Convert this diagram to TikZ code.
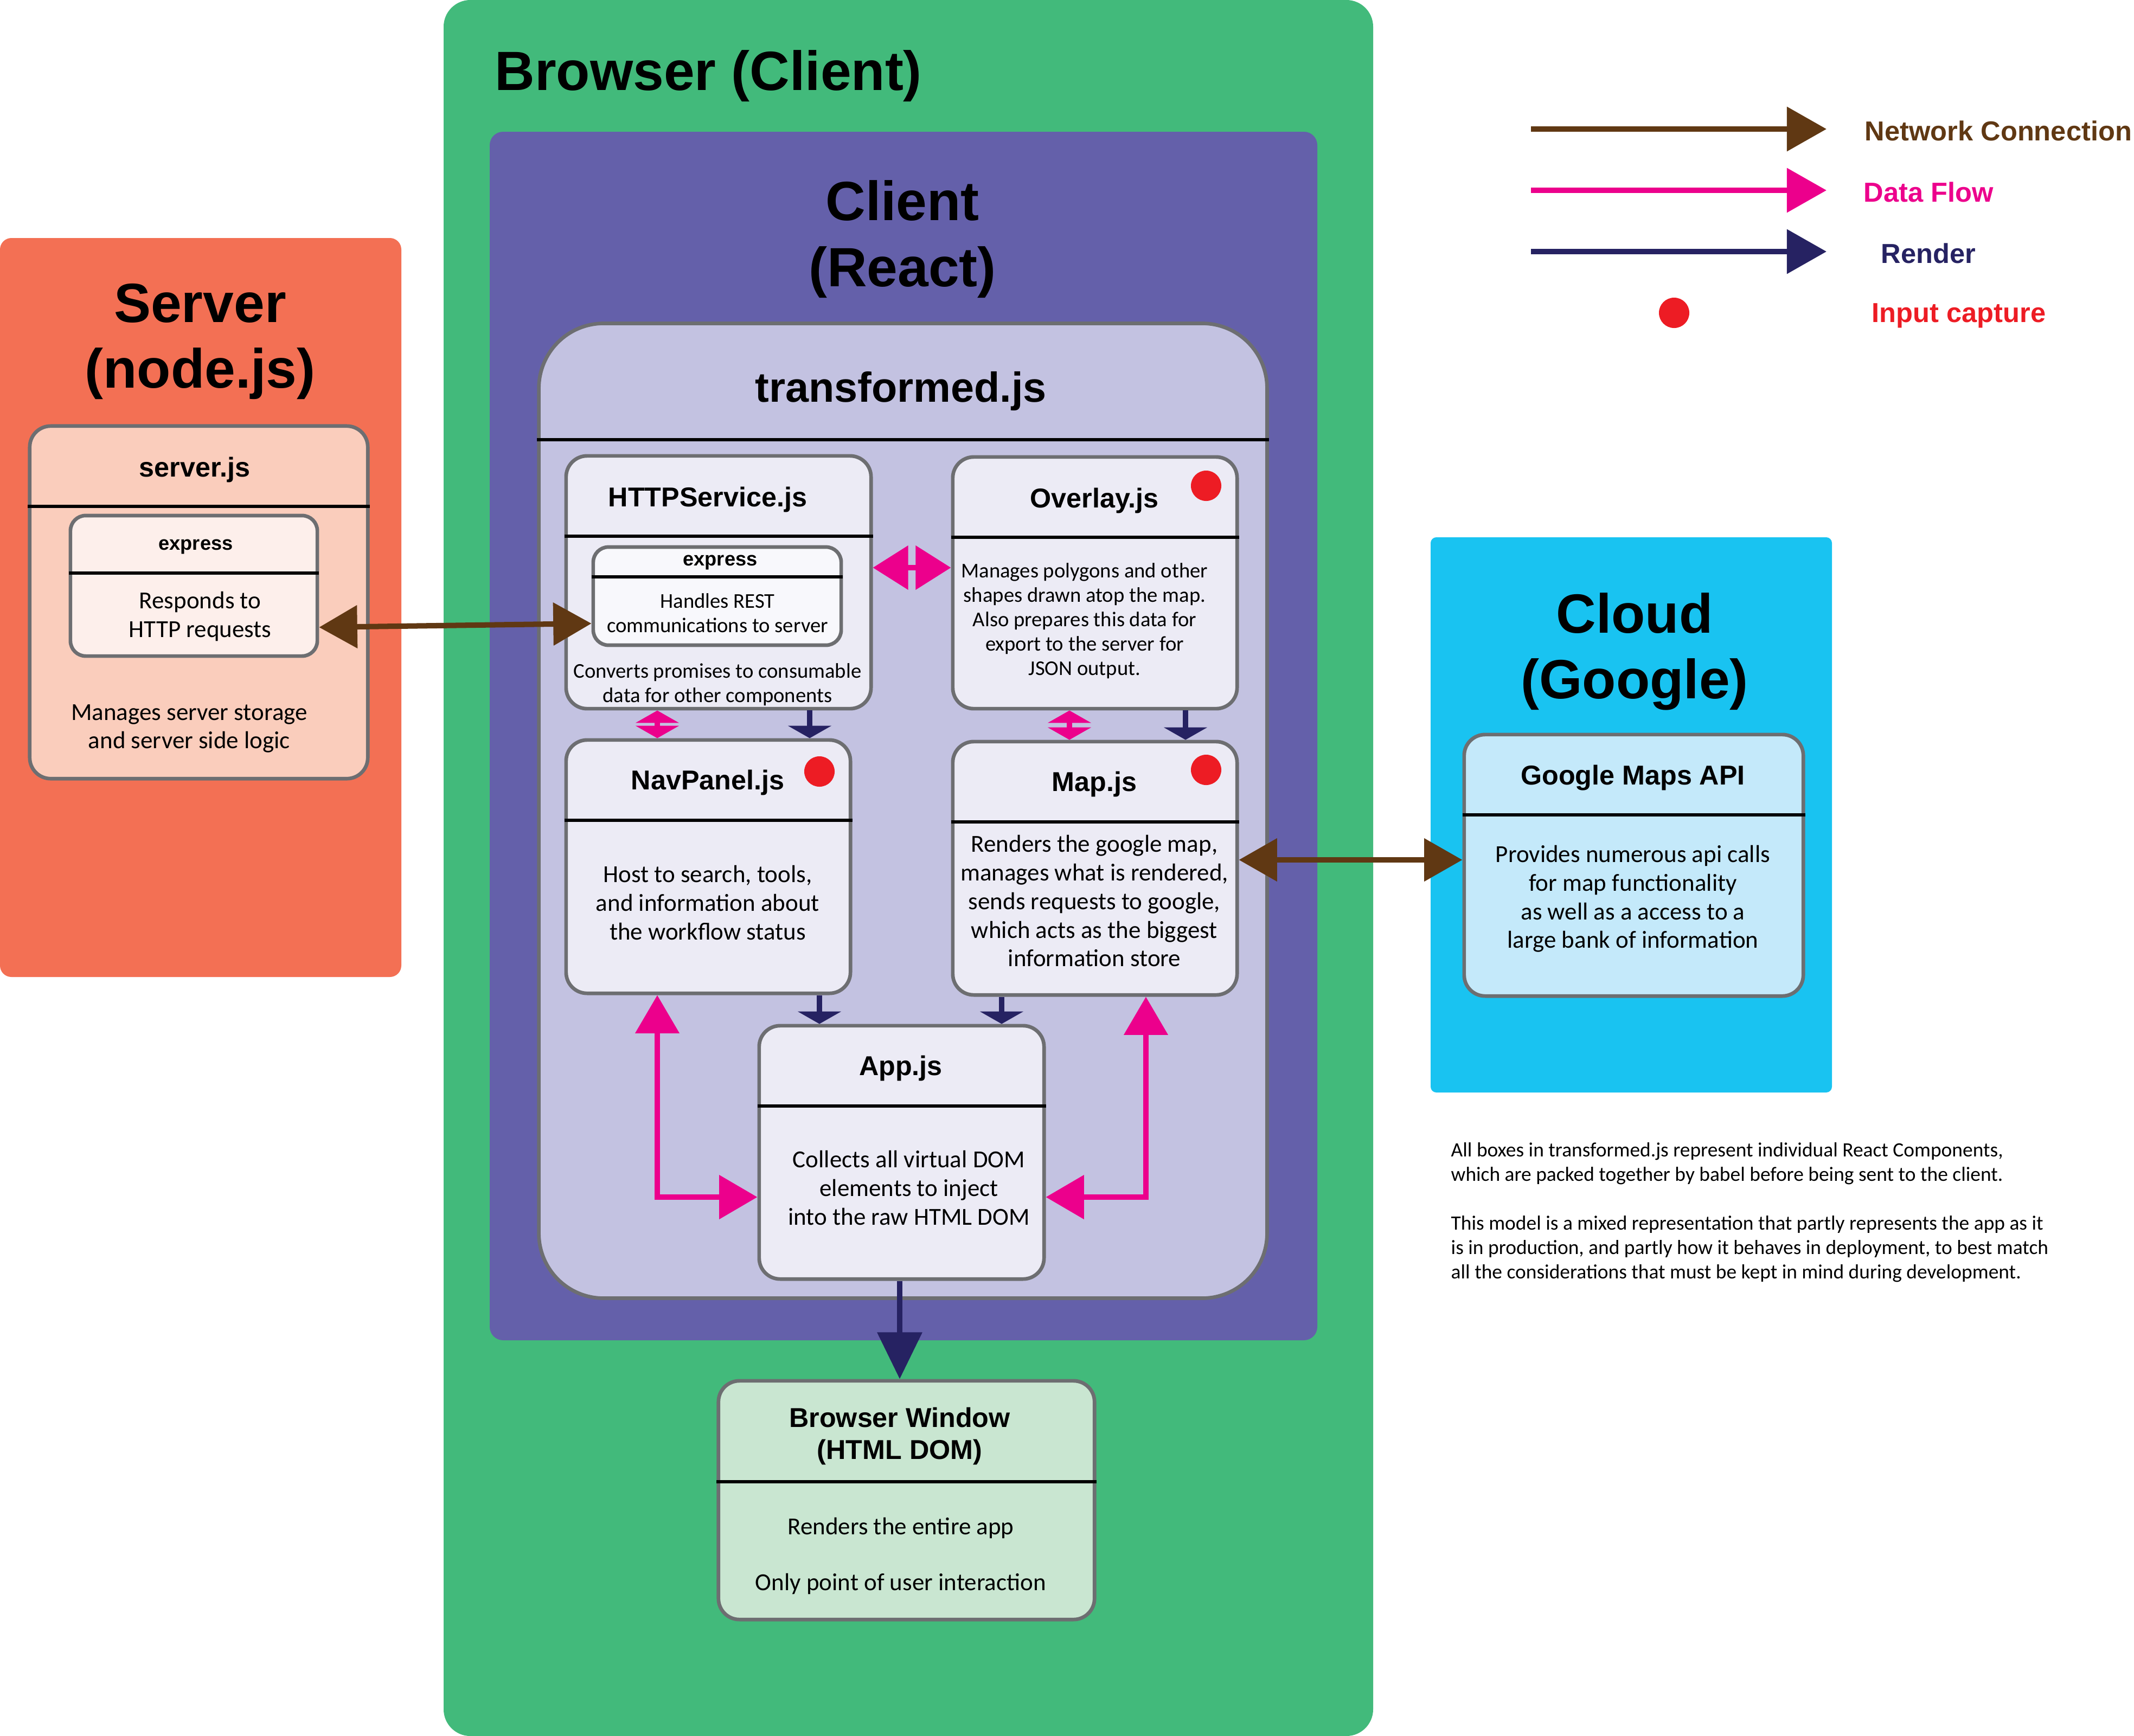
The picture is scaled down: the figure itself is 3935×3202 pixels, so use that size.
\documentclass[tikz,border=0pt]{standalone}
\usepackage{fontspec}
\setmainfont{Carlito}
\newfontfamily\headfont{Liberation Sans}
\usetikzlibrary{arrows.meta}

\definecolor{srvorange}{HTML}{F37054}
\definecolor{srvfill}{HTML}{FACDBC}
\definecolor{expfill}{HTML}{FDEFEB}
\definecolor{brwgreen}{HTML}{42BA7B}
\definecolor{rctpurple}{HTML}{6460AA}
\definecolor{trnfill}{HTML}{C3C2E1}
\definecolor{compfill}{HTML}{ECEBF5}
\definecolor{httpexpfill}{HTML}{F8F8FC}
\definecolor{bwfill}{HTML}{C9E6D1}
\definecolor{cldcyan}{HTML}{19C3F1}
\definecolor{gglfill}{HTML}{C4E9FA}
\definecolor{boxgray}{HTML}{6D6E71}
\definecolor{netbrown}{HTML}{603813}
\definecolor{flowpink}{HTML}{EC008C}
\definecolor{rendernavy}{HTML}{262262}
\definecolor{inputred}{HTML}{ED1C24}

\tikzset{
  comp/.style={draw=boxgray, line width=1.9pt, fill=compfill, rounded corners=11pt, inner sep=0pt},
  hdr/.style={line width=1.8pt, black},
  bigttl/.style={font=\headfont\bfseries\fontsize{29}{34.5}\selectfont, align=center},
  boxttl/.style={font=\headfont\bfseries\fontsize{14.3}{17}\selectfont, align=center},
  expttl/.style={font=\headfont\bfseries\fontsize{10.3}{12}\selectfont},
  bodytxt/.style={font=\fontsize{12.8}{15}\selectfont, align=center},
  smalltxt/.style={font=\fontsize{11}{12.8}\selectfont, align=center},
  notetxt/.style={font=\fontsize{10.65}{12.8}\selectfont, align=left, inner sep=0pt},
  legtxt/.style={font=\headfont\bfseries\fontsize{14.4}{16}\selectfont, inner sep=0pt},
  inputdot/.style={circle, fill=inputred, minimum size=0.56cm, inner sep=0pt},
  net/.style={netbrown, line width=2.85pt, {Triangle[length=20pt,width=22pt]}-{Triangle[length=20pt,width=22pt]}},
  flowlong/.style={flowpink, line width=3pt, {Triangle[length=20pt,width=22.5pt]}-{Triangle[length=20pt,width=22.5pt]}},
  flowmid/.style={flowpink, line width=3pt, {Triangle[length=18.5pt,width=22.5pt]}-{Triangle[length=18.5pt,width=22.5pt]}},
  flowshort/.style={flowpink, line width=3pt, {Triangle[length=6.5pt,width=22.5pt]}-{Triangle[length=6.5pt,width=22.5pt]}},
  rnd/.style={rendernavy, line width=3pt, -{Triangle[length=6.5pt,width=22.5pt]}},
  rndbig/.style={rendernavy, line width=3pt, -{Triangle[length=24.5pt,width=23pt]}},
  legarrow/.style={line width=2.85pt, -{Triangle[length=20.8pt,width=22.8pt]}}
}

\begin{document}
\begin{tikzpicture}[x=0.01cm, y=-0.01cm]
  % fixed frame, pixel units of the sketch
  \path[use as bounding box] (0,0) rectangle (3935,3202);

  % ---- Panels ----
  \fill[srvorange, rounded corners=6pt] (0,439) rectangle (740,1802);
  \fill[brwgreen, rounded corners=14pt] (818,0) rectangle (2532,3202);
  \fill[rctpurple, rounded corners=7pt] (903,243) rectangle (2429,2472);
  \fill[cldcyan, rounded corners=3pt] (2638,991) rectangle (3378,2015);

  \node[bigttl] (srvttl) at (369,630) {Server\\(node.js)};
  \node[bigttl, anchor=west] (brwttl) at (900,140) {Browser (Client)};
  \node[bigttl] (rctttl) at (1664,441) {Client\\(React)};
  \node[bigttl] (cldttl) at (3014,1202) {Cloud\\(Google)};

  % ---- Server side ----
  \node[comp, fill=srvfill, minimum width=6.23cm, minimum height=6.50cm] (srvjs) at (366.5,1111) {};
  \draw[hdr] (srvjs.west |- 0,934) -- (srvjs.east |- 0,934);
  \node[boxttl] (srvjsttl) at (359,866) {server.js};
  \node[comp, fill=expfill, rounded corners=8pt, minimum width=4.55cm, minimum height=2.59cm] (srvexp) at (357.5,1080.5) {};
  \draw[hdr] (srvexp.west |- 0,1057) -- (srvexp.east |- 0,1057);
  \node[expttl] (srvexpttl) at (361,1008) {express};
  \node[bodytxt] (srvexptxt) at (369,1137) {Responds to\\HTTP requests};
  \node[bodytxt] (srvtxt) at (349,1344) {Manages server storage\\and server side logic};

  % ---- transformed.js ----
  \node[comp, fill=trnfill, rounded corners=34pt, minimum width=13.42cm, minimum height=17.97cm] (trans) at (1665,1495.5) {};
  \draw[hdr] (trans.west |- 0,811) -- (trans.east |- 0,811);
  \node[font=\headfont\bfseries\fontsize{22}{26}\selectfont] (transttl) at (1661,721) {transformed.js};

  % HTTPService.js
  \node[comp, minimum width=5.62cm, minimum height=4.66cm] (http) at (1325,1074) {};
  \draw[hdr] (http.west |- 0,989) -- (http.east |- 0,989);
  \node[boxttl] (httpttl) at (1305,921) {HTTPService.js};
  \node[comp, fill=httpexpfill, rounded corners=8pt, minimum width=4.57cm, minimum height=1.81cm] (httpexp) at (1322.5,1099.5) {};
  \draw[hdr] (httpexp.west |- 0,1064) -- (httpexp.east |- 0,1064);
  \node[expttl] (httpexpttl) at (1328,1037) {express};
  \node[smalltxt] (httpexptxt) at (1323,1131) {Handles REST\\communications to server};
  \node[smalltxt] (httptxt) at (1323,1263) {Converts promises to consumable\\data for other components};

  % Overlay.js
  \node[comp, minimum width=5.24cm, minimum height=4.64cm] (overlay) at (2019,1075) {};
  \draw[hdr] (overlay.west |- 0,991) -- (overlay.east |- 0,991);
  \node[boxttl] (overlayttl) at (2018,923) {Overlay.js};
  \node[smalltxt] (overlaytxt) at (2000,1145) {Manages polygons and other\\shapes drawn atop the map.\\Also prepares this data for\\export to the server for\\JSON output.};

  % NavPanel.js
  \node[comp, minimum width=5.24cm, minimum height=4.67cm] (nav) at (1306,1598.5) {};
  \draw[hdr] (nav.west |- 0,1513) -- (nav.east |- 0,1513);
  \node[boxttl] (navttl) at (1305,1443) {NavPanel.js};
  \node[bodytxt] (navtxt) at (1305,1665) {Host to search, tools,\\and information about\\the workflow status};

  % Map.js
  \node[comp, minimum width=5.24cm, minimum height=4.67cm] (map) at (2019,1601.5) {};
  \draw[hdr] (map.west |- 0,1516) -- (map.east |- 0,1516);
  \node[boxttl] (mapttl) at (2018,1446) {Map.js};
  \node[bodytxt] (maptxt) at (2018,1662) {Renders the google map,\\manages what is rendered,\\sends requests to google,\\which acts as the biggest\\information store};

  % App.js
  \node[comp, minimum width=5.25cm, minimum height=4.67cm] (app) at (1662.5,2125.5) {};
  \draw[hdr] (app.west |- 0,2040) -- (app.east |- 0,2040);
  \node[boxttl] (appttl) at (1661,1970) {App.js};
  \node[bodytxt] (apptxt) at (1676,2191) {Collects all virtual DOM\\elements to inject\\into the raw HTML DOM};

  % input capture dots
  \node[inputdot] (overlaydot) at (2224,896) {};
  \node[inputdot] (navdot) at (1511,1423) {};
  \node[inputdot] (mapdot) at (2224,1420) {};

  % ---- Browser Window ----
  \node[comp, fill=bwfill, minimum width=6.93cm, minimum height=4.40cm] (bw) at (1671.5,2767) {};
  \draw[hdr] (bw.west |- 0,2733) -- (bw.east |- 0,2733);
  \node[boxttl] (bwttl) at (1659,2649) {Browser Window\\(HTML DOM)};
  \node[bodytxt] (bwtxta) at (1661,2818) {Renders the entire app};
  \node[bodytxt] (bwtxtb) at (1661,2921) {Only point of user interaction};

  % ---- Google ----
  \node[comp, fill=gglfill, minimum width=6.25cm, minimum height=4.82cm] (ggl) at (3012.5,1596) {};
  \draw[hdr] (ggl.west |- 0,1503) -- (ggl.east |- 0,1503);
  \node[boxttl] (gglttl) at (3011,1435) {Google Maps API};
  \node[bodytxt] (ggltxt) at (3011,1658) {Provides numerous api calls\\for map functionality\\as well as a access to a\\large bank of information};

  % ======== CONNECTIONS ========
  \draw[net] (srvexp.east |- 0,1157) -- (httpexp.west |- 0,1150);
  \draw[net] (map.east |- 0,1586) -- (ggl.west |- 0,1586);

  \draw[flowmid] (http.east |- 0,1047) -- (overlay.west |- 0,1047);
  \draw[flowshort] (http.south -| 1212,0) -- (nav.north -| 1212,0);
  \draw[flowshort] (overlay.south -| 1972,0) -- (map.north -| 1972,0);
  \draw[flowlong] (nav.south -| 1212,0) |- (app.west |- 0,2208);
  \draw[flowlong] (map.south -| 2113,0) |- (app.east |- 0,2208);

  \draw[rnd] (http.south -| 1493,0) -- (nav.north -| 1493,0);
  \draw[rnd] (overlay.south -| 2186,0) -- (map.north -| 2186,0);
  \draw[rnd] (nav.south -| 1511,0) -- (app.north -| 1511,0);
  \draw[rnd] (map.south -| 1847,0) -- (app.north -| 1847,0);
  \draw[rndbig] (app.south -| 1659,0) -- (bw.north -| 1659,0);

  % ======== LEGEND ========
  \foreach \yy/\cl/\lbl/\lx in {238/netbrown/Network Connection/3438,
                                351/flowpink/Data Flow/3436,
                                464/rendernavy/Render/3468} {
    \draw[legarrow, \cl] (2823,\yy) -- (3368,\yy);
    \node[legtxt, text=\cl, anchor=west] (leg\yy) at (\lx,\yy+3) {\lbl};
  }
  \node[inputdot] (legdot) at (3087,577) {};
  \node[legtxt, text=inputred, anchor=west] (leginput) at (3451,582) {Input capture};

  \node[notetxt, anchor=west] (note) at (2675,2236) {All boxes in transformed.js represent individual React Components,\\which are packed together by babel before being sent to the client.\\[12.8pt]This model is a mixed representation that partly represents the app as it\\is in production, and partly how it behaves in deployment, to best match\\all the considerations that must be kept in mind during development.};
\end{tikzpicture}
\end{document}
